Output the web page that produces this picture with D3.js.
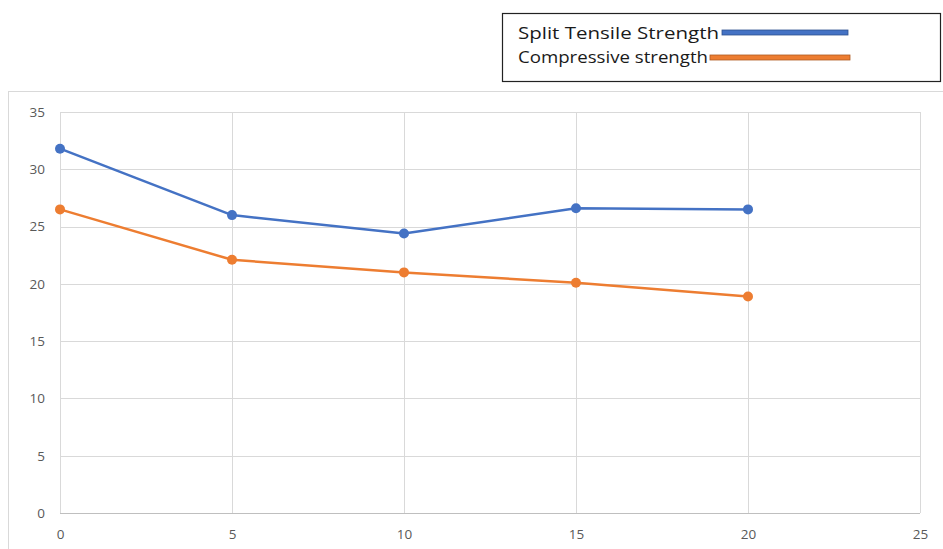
<!DOCTYPE html>
<html>
<head>
<meta charset="utf-8">
<script src="https://cdn.jsdelivr.net/npm/d3@7"></script>
<style>
  html, body { margin: 0; padding: 0; background: #ffffff; }
  svg { display: block; }
</style>
</head>
<body>
<svg id="chart" width="943" height="549"></svg>
<script>
// Replacement level (%) on the x axis
const xValues = [0, 5, 10, 15, 20];
// Strength values for each series
const splitTensile = [31.8, 26.0, 24.4, 26.6, 26.5];
const compressive = [26.5, 22.1, 21.0, 20.1, 18.9];
const seriesNames = ["Split Tensile Strength", "Compressive strength"];
const seriesColors = ["#4472c4", "#ed7d31"];
const legendStroke = ["#2f528f", "#ae5a21"];
const xTicks = [0, 5, 10, 15, 20, 25];
const yTicks = [0, 5, 10, 15, 20, 25, 30, 35];

const svg = d3.select("#chart");
const plot = { left: 60, right: 920, top: 112, bottom: 513 };

const x = d3.scaleLinear().domain([0, 25]).range([plot.left, plot.right]);
const y = d3.scaleLinear().domain([0, 35]).range([plot.bottom, plot.top]);

// Outer chart frame
svg.append("rect")
  .attr("x", 8.5).attr("y", 91.5)
  .attr("width", 960).attr("height", 500)
  .attr("fill", "#ffffff")
  .attr("stroke", "#d9d9d9").attr("stroke-width", 1);

// Gridlines
const grid = svg.append("g");
grid.selectAll("line.h").data(yTicks).join("line")
  .attr("class", "h")
  .attr("x1", plot.left).attr("x2", plot.right)
  .attr("y1", d => Math.round(y(d)) + 0.5).attr("y2", d => Math.round(y(d)) + 0.5)
  .attr("stroke", d => d === 0 ? "#bfbfbf" : "#d9d9d9").attr("stroke-width", 1);
grid.selectAll("line.v").data(xTicks).join("line")
  .attr("class", "v")
  .attr("y1", plot.top).attr("y2", plot.bottom)
  .attr("x1", d => Math.round(x(d)) + 0.5).attr("x2", d => Math.round(x(d)) + 0.5)
  .attr("stroke", "#d9d9d9").attr("stroke-width", 1);

// Axes (labels only)
const yAxis = d3.axisLeft(y).tickValues(yTicks).tickSize(0).tickPadding(15);
const gy = svg.append("g").attr("transform", `translate(${plot.left},0)`).call(yAxis);
const xAxis = d3.axisBottom(x).tickValues(xTicks).tickSize(0).tickPadding(16);
const gx = svg.append("g").attr("transform", `translate(0,${plot.bottom})`).call(xAxis);
[gx, gy].forEach(g => {
  g.select(".domain").remove();
  g.selectAll("text")
    .attr("fill", "#595959")
    .style("font-family", "'Open Sans', 'Noto Sans', sans-serif")
    .style("font-size", "13.5px");
});

// Series lines and markers
const series = [splitTensile, compressive];
const line = d3.line().x((d, i) => x(xValues[i])).y(d => y(d));
series.forEach((vals, s) => {
  svg.append("path")
    .datum(vals)
    .attr("d", line)
    .attr("fill", "none")
    .attr("stroke", seriesColors[s])
    .attr("stroke-width", 2.5)
    .attr("stroke-linejoin", "round");
  svg.append("g").selectAll("circle").data(vals).join("circle")
    .attr("cx", (d, i) => x(xValues[i]))
    .attr("cy", d => y(d))
    .attr("r", 5)
    .attr("fill", seriesColors[s]);
});

// Legend box
const legend = svg.append("g");
legend.append("rect")
  .attr("x", 502.5).attr("y", 13.5)
  .attr("width", 438).attr("height", 68)
  .attr("fill", "#ffffff")
  .attr("stroke", "#222222").attr("stroke-width", 1.2);

const legendRows = [
  { text: seriesNames[0], ty: 39, x1: 722, x2: 848, ly: 32.5 },
  { text: seriesNames[1], ty: 63, x1: 710, x2: 850, ly: 57.5 }
];
legendRows.forEach((r, i) => {
  legend.append("text")
    .attr("x", 518).attr("y", r.ty)
    .attr("fill", "#1a1a1a")
    .style("font-family", "'Open Sans', 'Noto Sans', sans-serif")
    .style("font-size", "16px")
    .attr("textLength", i === 0 ? 201 : 190)
    .attr("lengthAdjust", "spacingAndGlyphs")
    .text(r.text);
  legend.append("rect")
    .attr("x", r.x1).attr("y", r.ly - 2.5)
    .attr("width", r.x2 - r.x1).attr("height", 5)
    .attr("fill", seriesColors[i])
    .attr("stroke", legendStroke[i]).attr("stroke-width", 0.8);
});
</script>
</body>
</html>
